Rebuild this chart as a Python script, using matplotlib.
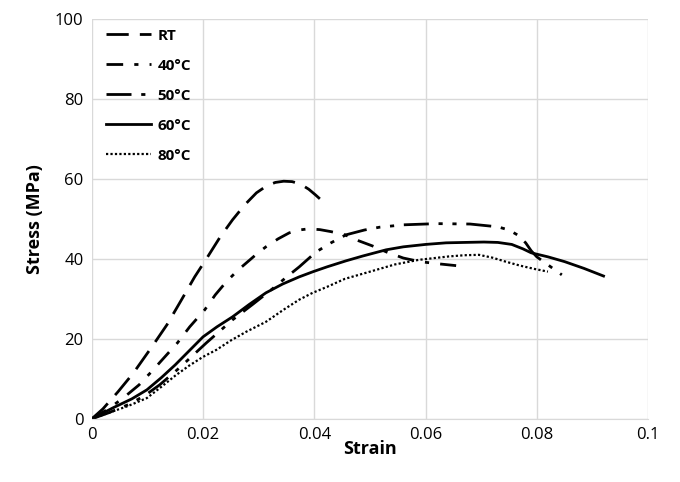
import matplotlib.pyplot as plt

# stress-strain curves
rt_x = [0, 0.002, 0.0047, 0.0075, 0.0108, 0.0135, 0.0161, 0.0185, 0.0206, 0.023, 0.0253,
        0.0275, 0.0296, 0.0315, 0.033, 0.0345, 0.036, 0.0375, 0.039, 0.0402, 0.041]
rt_y = [0, 2.5, 6.75, 11.5, 18, 23.5, 29.7, 35.5, 40, 45.3, 49.75,
        53.5, 56.5, 58.3, 59.1, 59.4, 59.3, 58.7, 57.4, 56, 55]

c40_x = [0, 0.003, 0.0059, 0.0085, 0.0107, 0.013, 0.0154, 0.0176, 0.0203, 0.0222, 0.0242,
         0.0263, 0.0283, 0.0298, 0.0313, 0.0335, 0.0355, 0.0372, 0.039, 0.041, 0.043,
         0.0455, 0.048, 0.0505, 0.053, 0.056, 0.059, 0.062, 0.0655]
c40_y = [0, 2.5, 5.5, 8.5, 11.75, 15.3, 19, 23, 27.25, 31, 34.3,
         37.2, 39.6, 41.4, 43, 45, 46.5, 47.2, 47.5, 47.3, 46.8,
         46, 44.5, 43.2, 41.7, 40.2, 39.3, 38.8, 38.3]

c50_x = [0, 0.003, 0.0068, 0.0095, 0.0122, 0.0158, 0.0206, 0.0253, 0.029, 0.0323, 0.0348,
         0.0373, 0.0403, 0.043, 0.0457, 0.049, 0.0517, 0.056, 0.062, 0.068, 0.073, 0.075, 0.0765,
         0.078, 0.079, 0.080, 0.0825, 0.0845]
c50_y = [0, 1.5, 3.7, 5.8, 8.5, 12.8, 19, 24.75, 28.7, 32.3, 35.2,
         38, 41.7, 44, 46, 47.2, 47.9, 48.5, 48.8, 48.7, 48, 47.2, 46,
         44, 42, 40.5, 38, 36]

c60_x = [0, 0.0038, 0.0072, 0.0099, 0.0125, 0.015, 0.0175, 0.02, 0.0225, 0.0253, 0.0283,
         0.0313, 0.0343, 0.0373, 0.0398, 0.0423, 0.0457, 0.0487, 0.0529, 0.056, 0.06,
         0.0637, 0.067, 0.0705, 0.073, 0.0755, 0.0775, 0.079, 0.082, 0.085, 0.0885, 0.092]
c60_y = [0, 2.75, 5, 7.25, 10.3, 13.5, 17, 20.5, 23, 25.5, 28.6,
         31.5, 33.7, 35.5, 36.8, 38, 39.5, 40.7, 42.25, 43, 43.6,
         44, 44.1, 44.2, 44.1, 43.6, 42.5, 41.5, 40.5, 39.3, 37.6, 35.7]

c80_x = [0, 0.003, 0.0065, 0.0099, 0.0125, 0.015, 0.0175, 0.02, 0.0224, 0.025, 0.0278,
         0.0313, 0.0345, 0.0373, 0.0397, 0.0423, 0.0455, 0.0499, 0.0545, 0.0588, 0.0642,
         0.067, 0.0696, 0.072, 0.0744, 0.077, 0.0795, 0.082]
c80_y = [0, 1.5, 3.2, 5.2, 8, 10.8, 13.3, 15.5, 17.25, 19.6, 21.8,
         24.25, 27.3, 29.8, 31.5, 33, 35, 36.75, 38.6, 39.75, 40.6,
         40.9, 41, 40.3, 39.3, 38.3, 37.5, 36.8]

x_ticks = [0, 0.02, 0.04, 0.06, 0.08, 0.1]
x_labels = ["0", "0.02", "0.04", "0.06", "0.08", "0.1"]
y_ticks = [0, 20, 40, 60, 80, 100]

plt.rcParams['font.family'] = ['Open Sans', 'DejaVu Sans']

fig, ax = plt.subplots(figsize=(6.8, 4.82), dpi=100)
fig.subplots_adjust(left=0.135, right=0.953, top=0.961, bottom=0.131)

ax.plot(rt_x, rt_y, color='black', lw=2, dashes=(8, 4), label='RT')
ax.plot(c40_x, c40_y, color='black', lw=2, dashes=(6, 4, 1.5, 4), label='40°C')
ax.plot(c50_x, c50_y, color='black', lw=2, dashes=(9, 3.5, 1.5, 3.5, 1.5, 3.5), label='50°C')
ax.plot(c60_x, c60_y, color='black', lw=2, label='60°C')
ax.plot(c80_x, c80_y, color='black', lw=1.6, dashes=(1, 1), label='80°C')

ax.set_xlim(0, 0.1)
ax.set_ylim(0, 100)
ax.set_xticks(x_ticks)
ax.set_xticklabels(x_labels)
ax.set_yticks(y_ticks)
ax.tick_params(length=0, labelsize=12, pad=6)
ax.grid(True, color='#d9d9d9', lw=1)
ax.set_axisbelow(True)
for s in ['top', 'right', 'left']:
    ax.spines[s].set_visible(False)
ax.spines['bottom'].set_color('#d9d9d9')

ax.set_xlabel('Strain', fontsize=13, fontweight='bold', labelpad=-2)
ax.set_ylabel('Stress (MPa)', fontsize=13, fontweight='bold', labelpad=8)

leg = ax.legend(loc='upper left', frameon=False, handlelength=3.0, handletextpad=0.4,
                labelspacing=1.05, prop={'weight': 'bold', 'size': 11},
                bbox_to_anchor=(0.0, 1.01))

fig.savefig('out.png')
